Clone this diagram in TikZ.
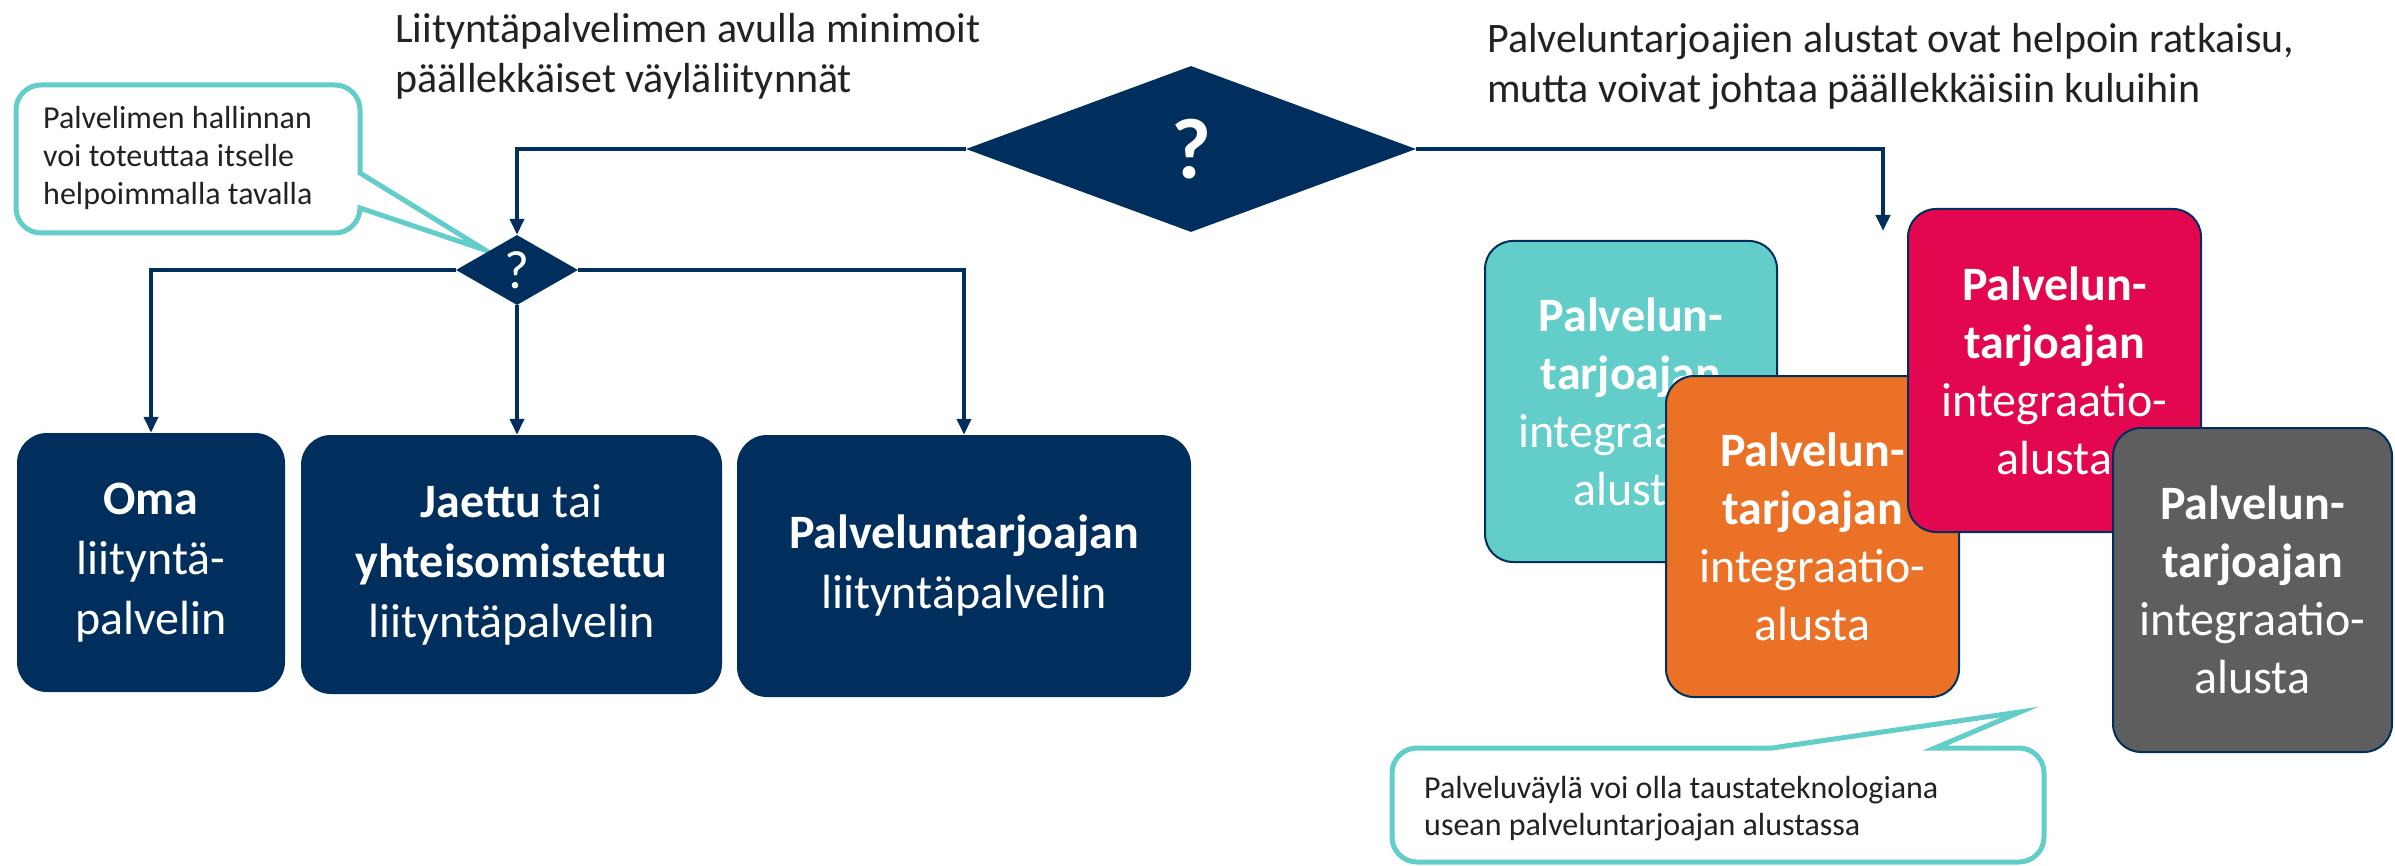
\documentclass[tikz,border=0pt]{standalone}
\usepackage{fontspec}
\setmainfont{Carlito}
\usetikzlibrary{arrows.meta,shapes.geometric}
\definecolor{navy}{HTML}{002F5E}
\definecolor{calteal}{HTML}{62CDC9}
\definecolor{cteal}{HTML}{62CDC9}
\definecolor{corange}{HTML}{EA7125}
\definecolor{ccrimson}{HTML}{E2074F}
\definecolor{cgray}{HTML}{5E5E5E}
\definecolor{txt}{HTML}{222222}
\tikzset{
 conn/.style={draw=navy, line width=4pt, -{Triangle[length=16pt,width=14pt]}},
 bigbox/.style={rectangle, rounded corners=30pt, fill=navy, text=white, align=center, font=\fontsize{48}{60}\selectfont, inner sep=0pt},
 card/.style={rectangle, rounded corners=28pt, draw=navy, line width=2pt, text=white, align=center, font=\fontsize{48}{58}\selectfont, inner sep=0pt},
 callout/.style={draw=calteal, line width=5pt, fill=white},
 calltext/.style={anchor=base west, inner sep=0pt, text=txt, font=\fontsize{32}{38}\selectfont},
 titletext/.style={anchor=base west, inner sep=0pt, text=txt, font=\fontsize{42}{50}\selectfont},
 decision/.style={diamond, fill=navy, text=white, inner sep=0pt},
}
\begin{document}
\begin{tikzpicture}[x=1pt,y=-1pt]
\useasboundingbox (0,0) rectangle (2395,866);

% titles
\node[titletext] (t1a) at (395,43) {Liityntäpalvelimen avulla minimoit};
\node[titletext] (t1b) at (395,93) {päällekkäiset väyläliitynnät};
\node[titletext] (t2a) at (1487,53) {Palveluntarjoajien alustat ovat helpoin ratkaisu,};
\node[titletext] (t2b) at (1487,103) {mutta voivat johtaa päällekkäisiin kuluihin};

% callout 1
\path[callout] (41,85) -- (335,85) arc[start angle=-90,end angle=0,radius=25]
  -- (360,173) -- (485,250) -- (360,208) arc[start angle=0,end angle=90,radius=25]
  -- (41,233) arc[start angle=90,end angle=180,radius=25]
  -- (16,110) arc[start angle=180,end angle=270,radius=25] -- cycle;
\node[calltext] (k1a) at (43,129) {Palvelimen hallinnan};
\node[calltext] (k1b) at (43,167) {voi toteuttaa itselle};
\node[calltext] (k1c) at (43,205) {helpoimmalla tavalla};

% diamonds
\node[decision, minimum width=450pt, minimum height=166pt, font=\fontsize{86}{90}\selectfont\bfseries] (bd) at (1191,149) {?};
\node[decision, minimum width=122pt, minimum height=70pt, font=\fontsize{54}{60}\selectfont] (sd) at (517,270) {?};

% left boxes
\node[bigbox, minimum width=268pt, minimum height=259pt] (b1) at (151,562.5) {\textbf{Oma}\\liityntä-\\palvelin};
\node[bigbox, minimum width=421pt, minimum height=259pt] (b2) at (511.5,564.5) {\textbf{Jaettu} tai\\\textbf{yhteisomistettu}\\liityntäpalvelin};
\node[bigbox, minimum width=454pt, minimum height=262pt] (b3) at (964,566) {\textbf{Palveluntarjoajan}\\liityntäpalvelin};

% cards
\node[card, fill=cteal, minimum width=292pt, minimum height=321pt] (c1) at (1631,401.5) {\textbf{Palvelun-}\\\textbf{tarjoajan}\\integraatio-\\alusta};
\node[card, fill=corange, minimum width=293pt, minimum height=321pt] (c2) at (1812.5,536.5) {\textbf{Palvelun-}\\\textbf{tarjoajan}\\integraatio-\\alusta};
\node[card, fill=ccrimson, minimum width=293pt, minimum height=323pt] (c3) at (2054.5,370.5) {\textbf{Palvelun-}\\\textbf{tarjoajan}\\integraatio-\\alusta};
\node[card, fill=cgray, minimum width=279pt, minimum height=324pt] (c4) at (2252.5,590) {\textbf{Palvelun-}\\\textbf{tarjoajan}\\integraatio-\\alusta};

% connectors
\coordinate (cardarrow) at (1883,231);
\draw[conn] (bd.west) -| (sd.north);
\draw[conn] (bd.east) -| (cardarrow);
\draw[conn] (sd.west) -| (b1.north);
\draw[conn] (sd.south) -- (sd.south |- b2.north);
\draw[conn] (sd.east) -| (b3.north);

% callout 2
\path[callout] (1417,748) -- (1772,748) -- (2020,712) -- (1935,748) -- (2019,748)
  arc[start angle=-90,end angle=0,radius=25] -- (2044,837)
  arc[start angle=0,end angle=90,radius=25] -- (1417,862)
  arc[start angle=90,end angle=180,radius=25] -- (1392,773)
  arc[start angle=180,end angle=270,radius=25] -- cycle;
\node[calltext] (k2a) at (1424,798) {Palveluväylä voi olla taustateknologiana};
\node[calltext] (k2b) at (1424,835) {usean palveluntarjoajan alustassa};
\end{tikzpicture}
\end{document}
